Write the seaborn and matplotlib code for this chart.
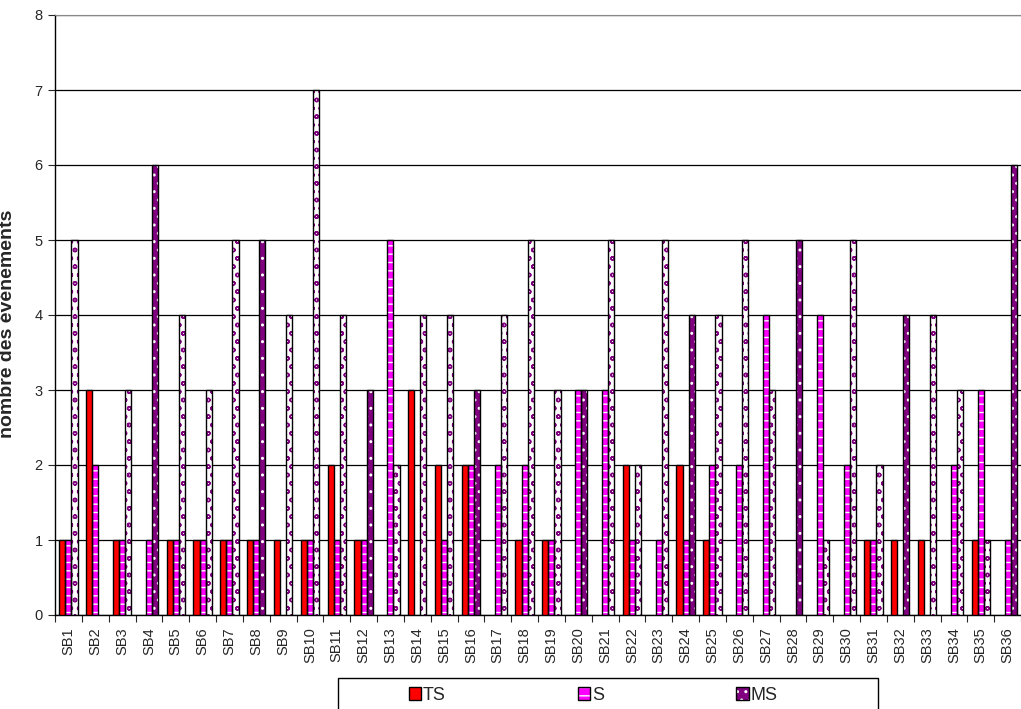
import matplotlib
matplotlib.use('Agg')
import matplotlib.pyplot as plt
from matplotlib.patches import Rectangle
import pandas as pd
import seaborn as sns

# values
sites = ['SB%d' % i for i in range(1, 37)]
ts = [1, 3, 1, 0, 1, 1, 1, 1, 1, 1, 2, 1, 0, 3, 2, 2, 0, 1,
      1, 0, 0, 2, 0, 2, 1, 0, 0, 0, 0, 0, 1, 1, 1, 0, 1, 0]
s = [1, 2, 1, 1, 1, 1, 1, 1, 0, 1, 1, 1, 5, 0, 1, 2, 2, 2,
     1, 3, 3, 1, 1, 1, 2, 2, 4, 0, 4, 2, 1, 0, 0, 2, 3, 1]
ms = [5, 0, 3, 6, 4, 3, 5, 5, 4, 7, 4, 3, 2, 4, 4, 3, 4, 5,
      3, 3, 5, 2, 5, 4, 4, 5, 3, 5, 1, 5, 2, 4, 4, 3, 1, 6]
series = ['TS', 'S', 'MS']

df = pd.DataFrame({'site': sites * 3,
                   'serie': ['TS'] * 36 + ['S'] * 36 + ['MS'] * 36,
                   'n': ts + s + ms})

sns.set_style('white')
plt.rcParams['font.family'] = ['Liberation Sans', 'DejaVu Sans']

fig = plt.figure(figsize=(10.21, 7.09), dpi=100)
ax = fig.add_axes([55 / 1021, 94 / 709, 966 / 1021, 600 / 709])

colors = {'TS': '#ff0000', 'S': '#ff00ff', 'MS': '#800080'}
sns.barplot(data=df, x='site', y='n', hue='serie', hue_order=series,
            palette=colors, width=0.68, linewidth=0, saturation=1,
            ax=ax, legend=False, zorder=3)

# Excel-like fill patterns
for bar in ax.containers[1]:
    bar.set_edgecolor('white')
    bar.set_hatch('--')
for i, bar in enumerate(ax.containers[2]):
    if i % 4 == 3:
        bar.set_facecolor('#800080')
        bar.set_edgecolor('white')
        bar.set_hatch('..')
    else:
        bar.set_facecolor('white')
        bar.set_edgecolor('#800080')
        bar.set_hatch('oo')
for c in ax.containers:
    for bar in c:
        if bar.get_height() > 0:
            ax.add_patch(Rectangle(bar.get_xy(), bar.get_width(), bar.get_height(),
                                   fill=False, edgecolor='black', lw=1.0, zorder=4))

ax.set_ylim(0, 8)
ax.set_xlim(-0.5, len(sites) - 0.5)
ax.set_yticks(range(0, 9))
ax.yaxis.grid(True, color='black', lw=0.9, zorder=0)
ax.set_axisbelow(True)
ax.set_xticks(range(len(sites)))
ax.set_xticklabels(sites, rotation=90, fontsize=10.5)
ax.set_yticks(range(0, 9))
ax.set_yticklabels([str(v) for v in range(0, 9)], fontsize=10.5)
ax.tick_params(axis='y', length=5, width=0.8, direction='out', left=True, pad=4)
ax.tick_params(axis='x', length=0, pad=9)
ax.set_xticks([i + 0.5 for i in range(-1, len(sites))], minor=True)
ax.tick_params(axis='x', which='minor', length=5, width=0.8, direction='out', bottom=True)
ax.set_xlabel('')
ax.set_ylabel('nombre des événements', fontsize=14, fontweight='bold')
ax.yaxis.set_label_coords(-0.04, 0.485)
for side in ['left', 'bottom']:
    ax.spines[side].set_color('black')
    ax.spines[side].set_linewidth(1.0)
ax.spines['top'].set_color('#888888')
ax.spines['right'].set_visible(False)

# legend below the plot
h_ts = Rectangle((0, 0), 1, 1, facecolor='#ff0000', edgecolor='black', lw=1)
h_s = (Rectangle((0, 0), 1, 1, facecolor='#ff00ff', edgecolor='white', hatch='--', lw=0),
       Rectangle((0, 0), 1, 1, fill=False, edgecolor='black', lw=1))
h_ms = (Rectangle((0, 0), 1, 1, facecolor='#800080', edgecolor='white', hatch='..', lw=0),
        Rectangle((0, 0), 1, 1, fill=False, edgecolor='black', lw=1))
leg = fig.legend([h_ts, h_s, h_ms], series, loc='center',
                 bbox_to_anchor=(593 / 1021, 1 - 695 / 709),
                 ncol=3, frameon=False, fontsize=13, handlelength=0.7, handleheight=0.7,
                 handletextpad=0.1, columnspacing=7.3)
fig.add_artist(Rectangle((338 / 1021, -0.05), 540 / 1021, 0.05 + 31 / 709,
                         transform=fig.transFigure, fill=False, edgecolor='black', lw=1))

fig.savefig('out.png', dpi=100)
